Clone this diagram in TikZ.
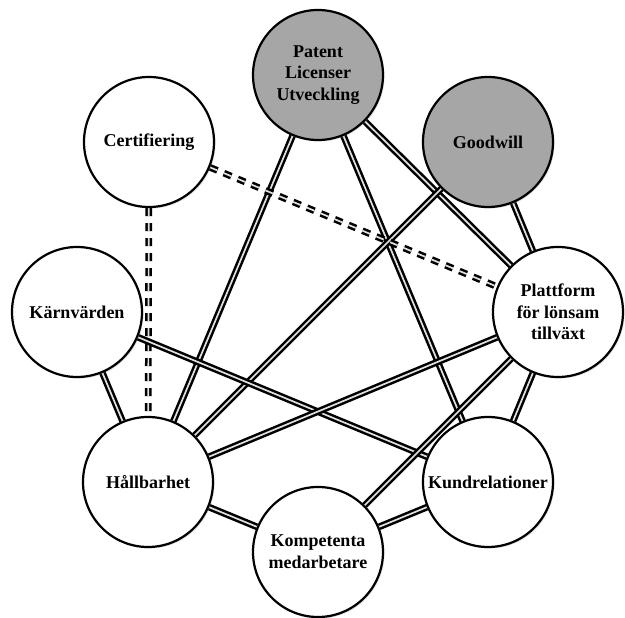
\documentclass[tikz,border=0pt]{standalone}
\usepackage{fontspec}
\setmainfont{Liberation Serif}
\usetikzlibrary{shadows,backgrounds}
\definecolor{nodegrey}{RGB}{166,166,166}
\definecolor{linkcore}{RGB}{225,225,225}
\begin{document}
\begin{tikzpicture}[x=1pt,y=-1pt,
  concept/.style={circle, draw=black, line width=2.2pt, fill=white,
    minimum size=130pt, inner sep=0pt, align=center,
    font=\fontsize{18}{21.7}\selectfont\bfseries,
    drop shadow={shadow xshift=1.5pt, shadow yshift=-1.5pt, opacity=0.25}},
  greyconcept/.style={concept, fill=nodegrey},
  link/.style={draw=black, line width=2.5pt, double=linkcore, double distance=1.7pt},
  weaklink/.style={link, dash pattern=on 8pt off 7pt}]
\useasboundingbox (0,0) rectangle (625,618);

% concepts
\node[greyconcept] (pat)  at (318,75)  {Patent\\Licenser\\Utveckling};
\node[greyconcept] (good) at (488,142) {Goodwill};
\node[concept]     (cert) at (149,142) {Certifiering};
\node[concept]     (karn) at (77,312)  {Kärnvärden};
\node[concept]     (plat) at (558,312) {Plattform\\för lönsam\\tillväxt};
\node[concept]     (hall) at (148,482) {Hållbarhet};
\node[concept]     (kund) at (488,482) {Kundrelationer};
\node[concept]     (komp) at (318,552) {Kompetenta\\medarbetare};

% relations
\begin{scope}[on background layer]
  \draw[link] (pat) -- (hall);
  \draw[link] (pat) -- (kund);
  \draw[link] (pat) -- (plat);
  \draw[link] (good) -- (plat);
  \draw[link] (good) -- (hall);
  \draw[weaklink] (cert) -- (plat);
  \draw[weaklink] (cert) -- (hall);
  \draw[link] (karn) -- (hall);
  \draw[link] (karn) -- (kund);
  \draw[link] (plat) -- (hall);
  \draw[link] (plat) -- (komp);
  \draw[link] (plat) -- (kund);
  \draw[link] (hall) -- (komp);
  \draw[link] (kund) -- (komp);
\end{scope}
\end{tikzpicture}
\end{document}
